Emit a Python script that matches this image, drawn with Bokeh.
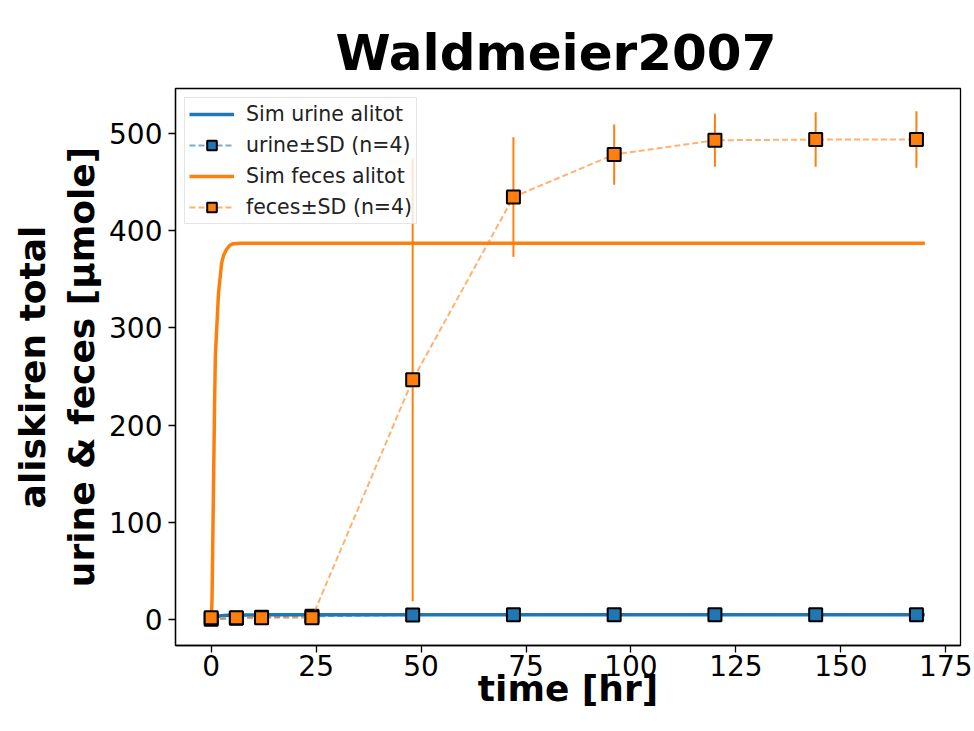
from bokeh.plotting import figure
from bokeh.models import ColumnDataSource, Range1d, Legend, LegendItem, FixedTicker
from bokeh.embed import file_html
from bokeh.resources import INLINE

# Simulated cumulative aliskiren amounts [µmole] over time [hr]
sim_urine_t = [0, 0.5, 1, 2, 3, 4, 6, 8, 12, 24, 48, 100, 170]
sim_urine_v = [0, 1.5, 2.6, 3.8, 4.3, 4.6, 4.8, 4.9, 5.0, 5.0, 5.0, 5.1, 5.1]
sim_feces_t = [0, 0.2, 0.5, 0.8, 1.0, 1.35, 1.75, 2.5, 3.0, 3.7, 4.5, 5.3, 7, 10, 20, 50, 100, 170]
sim_feces_v = [0, 20, 120, 220, 272, 302, 336, 367, 375, 381, 385, 386.5, 387, 387, 387, 387, 387, 387]

# Measured data (mean ± SD, n=4)
urine_t = [0, 6, 12, 24, 48, 72, 96, 120, 144, 168]
urine_mean = [0.5, 1.5, 2.5, 3.5, 4.8, 5.0, 5.0, 5.0, 5.0, 5.0]
urine_sd = [0.2, 0.4, 0.6, 0.8, 1.0, 1.0, 1.0, 1.0, 1.0, 1.0]
feces_t = [0, 6, 12, 24, 48, 72, 96, 120, 144, 168]
feces_mean = [2, 2, 2, 2, 246.6, 434.5, 478.1, 492.8, 493.5, 493.5]
feces_sd = [0.5, 0.5, 0.5, 0.5, 227.5, 61.5, 31.0, 27.2, 28.0, 29.0]

x_ticks = [0, 25, 50, 75, 100, 125, 150, 175]
y_ticks = [0, 100, 200, 300, 400, 500]

BLUE = "#1f77b4"
ORANGE = "#ff7f0e"

p = figure(width=974, height=731, output_backend="svg", toolbar_location=None,
           x_range=Range1d(-8.5, 178.5), y_range=Range1d(-26.5, 546),
           min_border_left=175, min_border_right=14, min_border_top=88,
           min_border_bottom=86)

p.title.text = "Waldmeier2007"
p.title.align = "left"
p.title.vertical_align = "top"
p.title.text_font = "DejaVu Sans"
p.title.text_font_style = "bold"
p.title.text_font_size = "50px"
p.title.text_color = "black"
p.title.offset = 160
p.title.standoff = 10

p.grid.visible = False
p.outline_line_color = "black"
p.outline_line_width = 1.3
p.background_fill_color = "white"
p.border_fill_color = "white"

for ax in (p.xaxis[0], p.yaxis[0]):
    ax.axis_line_width = 1.3
    ax.major_tick_line_width = 1.3
    ax.major_tick_out = 7
    ax.major_tick_in = 0
    ax.minor_tick_out = 0
    ax.minor_tick_in = 0
    ax.major_label_text_font = "DejaVu Sans"
    ax.major_label_text_font_size = "28px"
    ax.major_label_text_color = "black"
    ax.major_label_standoff = 6
    ax.axis_label_text_font = "DejaVu Sans"
    ax.axis_label_text_font_style = "bold"
    ax.axis_label_text_font_size = "36px"
    ax.axis_label_text_color = "black"

p.xaxis[0].ticker = FixedTicker(ticks=x_ticks)
p.yaxis[0].ticker = FixedTicker(ticks=y_ticks)
p.xaxis[0].major_label_standoff = 2
p.xaxis[0].axis_label = "time [hr]"
p.xaxis[0].axis_label_standoff = -11
p.yaxis[0].axis_label = "aliskiren total\nurine & feces [µmole]"
p.yaxis[0].axis_label_standoff = 4

# urine
r_su = p.line(sim_urine_t, sim_urine_v, line_color=BLUE, line_width=3.5)
usrc = ColumnDataSource(dict(t=urine_t, m=urine_mean,
                             lo=[m - s for m, s in zip(urine_mean, urine_sd)],
                             hi=[m + s for m, s in zip(urine_mean, urine_sd)]))
p.segment(x0="t", y0="lo", x1="t", y1="hi", source=usrc, line_color=BLUE, line_width=2)
r_ul = p.line("t", "m", source=usrc, line_color=BLUE, line_width=2, line_dash="6 3", line_alpha=0.6)
r_um = p.scatter("t", "m", source=usrc, marker="square", size=13, fill_color=BLUE,
                 line_color="black", line_width=2)

# feces
r_sf = p.line(sim_feces_t, sim_feces_v, line_color=ORANGE, line_width=3.5)
fsrc = ColumnDataSource(dict(t=feces_t, m=feces_mean,
                             lo=[m - s for m, s in zip(feces_mean, feces_sd)],
                             hi=[m + s for m, s in zip(feces_mean, feces_sd)]))
p.segment(x0="t", y0="lo", x1="t", y1="hi", source=fsrc, line_color=ORANGE, line_width=2)
r_fl = p.line("t", "m", source=fsrc, line_color=ORANGE, line_width=2, line_dash="6 3", line_alpha=0.6)
r_fm = p.scatter("t", "m", source=fsrc, marker="square", size=13, fill_color=ORANGE,
                 line_color="black", line_width=2)

legend = Legend(items=[
    LegendItem(label="Sim urine alitot", renderers=[r_su]),
    LegendItem(label="urine±SD (n=4)", renderers=[r_ul, r_um]),
    LegendItem(label="Sim feces alitot", renderers=[r_sf]),
    LegendItem(label="feces±SD (n=4)", renderers=[r_fl, r_fm]),
], location="top_left")
legend.label_text_font = "DejaVu Sans"
legend.label_text_font_size = "20.5px"
legend.label_text_color = "#222222"
legend.label_height = 24
legend.glyph_height = 24
legend.glyph_width = 45
legend.label_standoff = 12
legend.spacing = 7
legend.padding = 4
legend.margin = 9
legend.border_line_color = "#cccccc"
legend.border_line_width = 1
legend.background_fill_alpha = 0.8
p.add_layout(legend, "center")

open("out.html", "w").write(file_html(p, INLINE))
